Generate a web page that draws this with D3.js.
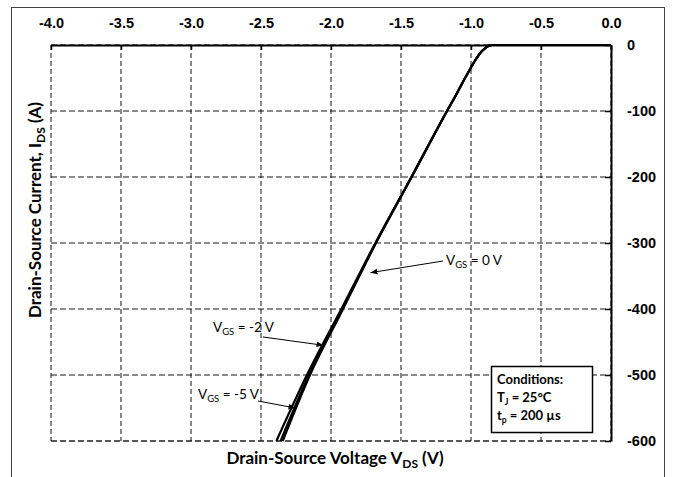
<!DOCTYPE html>
<html lang="en">
<head>
  <meta charset="utf-8">
  <script src="https://d3js.org/d3.v7.min.js"></script>
  <style>
    body { margin: 0; background: #fff; }
    svg { font-family: Lato, "Open Sans", sans-serif; }
    .tick text { font-weight: bold; font-size: 14.5px; fill: #000; }
  </style>
</head>
<body>
  <script type="text/javascript">
    // tick values
    var xTicks = [-4.0, -3.5, -3.0, -2.5, -2.0, -1.5, -1.0, -0.5, 0.0];
    var yTicks = [0, -100, -200, -300, -400, -500, -600];

    // drain-source voltage (V) and current (A) for each gate voltage
    var vds0 = [-2.345, -2.15, -1.914, -1.679, -1.424, -1.171, -1.1, -1.05, -1.0, -0.975, -0.95, -0.925, -0.9, -0.875, -0.85, -0.8, -0.5, 0.0];
    var ids0 = [-600, -500, -400, -300, -200, -100, -73, -53, -34, -25, -17, -10, -5, -1.5, 0, 0, 0, 0];
    var vds2 = [-2.36, -2.158, -1.918, -1.68, -1.424, -1.171, -1.1, -1.05, -1.0, -0.975, -0.95, -0.925, -0.9, -0.875, -0.85, -0.8, -0.5, 0.0];
    var ids2 = [-600, -500, -400, -300, -200, -100, -73, -53, -34, -25, -17, -10, -5, -1.5, 0, 0, 0, 0];
    var vds5 = [-2.39, -2.172, -1.926, -1.683, -1.426, -1.172, -1.1, -1.05, -1.0, -0.975, -0.95, -0.925, -0.9, -0.875, -0.85, -0.8, -0.5, 0.0];
    var ids5 = [-600, -500, -400, -300, -200, -100, -73, -53, -34, -25, -17, -10, -5, -1.5, 0, 0, 0, 0];

    var dim = {
      "width": 678,
      "height": 477,
      "left": 51,
      "right": 611,
      "top": 45,
      "bottom": 441
    };

    var svg = d3.select("body")
      .append("svg")
      .attr("width", dim.width)
      .attr("height", dim.height);

    // outer frame (bottom edge falls outside the picture)
    svg.append("rect")
      .attr("x", 11.5)
      .attr("y", 7.5)
      .attr("width", 653)
      .attr("height", 490)
      .attr("fill", "none")
      .attr("stroke", "#444")
      .attr("stroke-width", 1);

    var xScale = d3.scaleLinear()
      .domain([-4, 0])
      .range([dim.left, dim.right]);

    var yScale = d3.scaleLinear()
      .domain([-600, 0])
      .range([dim.bottom, dim.top]);

    // horizontal grid
    svg.append("g")
      .selectAll("line")
      .data(yTicks)
      .enter()
      .append("line")
      .attr("x1", dim.left)
      .attr("x2", dim.right)
      .attr("y1", d => yScale(d))
      .attr("y2", d => yScale(d))
      .attr("stroke", d => d === -600 ? "#222" : "#666")
      .attr("stroke-width", 1.3)
      .attr("stroke-dasharray", "6,3");

    // vertical grid
    svg.append("g")
      .selectAll("line")
      .data(xTicks)
      .enter()
      .append("line")
      .attr("x1", d => xScale(d))
      .attr("x2", d => xScale(d))
      .attr("y1", dim.top)
      .attr("y2", dim.bottom)
      .attr("stroke", "#111")
      .attr("stroke-width", 1)
      .attr("stroke-dasharray", "5,3");

    // curves
    var line = d3.line()
      .x(d => xScale(d[0]))
      .y(d => yScale(d[1]))
      .curve(d3.curveMonotoneX);

    [[vds5, ids5], [vds2, ids2], [vds0, ids0]].forEach(function(s) {
      svg.append("path")
        .datum(d3.zip(s[0], s[1]))
        .attr("d", line)
        .attr("fill", "none")
        .attr("stroke", "#000")
        .attr("stroke-width", 2.2);
    });

    // axes
    var xAxis = d3.axisTop(xScale)
      .tickValues(xTicks)
      .tickSizeInner(-5)
      .tickSizeOuter(0)
      .tickPadding(17)
      .tickFormat(d => d.toFixed(1));

    var yAxis = d3.axisRight(yScale)
      .tickValues(yTicks)
      .tickSizeInner(-6)
      .tickSizeOuter(0)
      .tickPadding(16)
      .tickFormat(d => String(d));

    var gx = svg.append("g")
      .attr("transform", "translate(0," + dim.top + ")")
      .call(xAxis);

    var gy = svg.append("g")
      .attr("transform", "translate(" + dim.right + ",0)")
      .call(yAxis);

    [gx, gy].forEach(function(g) {
      g.select(".domain").attr("stroke", "#000").attr("stroke-width", 2);
      g.selectAll(".tick line").attr("stroke", "#000").attr("stroke-width", 1.5);
    });
    gy.selectAll(".tick text").attr("text-anchor", "start");

    // axis titles
    var xTitle = svg.append("text")
      .attr("x", 335)
      .attr("y", 464)
      .attr("text-anchor", "middle")
      .style("font-weight", "bold")
      .style("font-size", "17px")
      .text("Drain-Source Voltage V");
    xTitle.append("tspan").attr("dy", 4).style("font-size", "12px").text("DS");
    xTitle.append("tspan").attr("dy", -4).text(" (V)");

    var yTitle = svg.append("text")
      .attr("transform", "translate(41,210) rotate(-90)")
      .attr("text-anchor", "middle")
      .style("font-weight", "bold")
      .style("font-size", "17px")
      .text("Drain-Source Current, I");
    yTitle.append("tspan").attr("dy", 4).style("font-size", "12px").text("DS");
    yTitle.append("tspan").attr("dy", -4).text(" (A)");

    // annotations
    svg.append("defs").append("marker")
      .attr("id", "arrow")
      .attr("viewBox", "0 0 10 10")
      .attr("refX", 10)
      .attr("refY", 5)
      .attr("markerWidth", 7)
      .attr("markerHeight", 7)
      .attr("orient", "auto")
      .append("path")
      .attr("d", "M0,1L10,5L0,9Z")
      .attr("fill", "#000");

    var notes = [
      { label: "0 V", tx: 446, ty: 265, x1: 443, y1: 261, vds: -1.74, ids: -345 },
      { label: "-2 V", tx: 213, ty: 332, x1: 263, y1: 337, vds: -2.075, ids: -455 },
      { label: "-5 V", tx: 198, ty: 399, x1: 258, y1: 401, vds: -2.275, ids: -550 }
    ];

    notes.forEach(function(n) {
      var t = svg.append("text")
        .attr("x", n.tx)
        .attr("y", n.ty)
        .style("font-size", "13.5px")
        .text("V");
      t.append("tspan").attr("dy", 3).style("font-size", "9.5px").text("GS");
      t.append("tspan").attr("dy", -3).text(" = " + n.label);

      svg.append("line")
        .attr("x1", n.x1)
        .attr("y1", n.y1)
        .attr("x2", xScale(n.vds) + 3)
        .attr("y2", yScale(n.ids))
        .attr("stroke", "#000")
        .attr("stroke-width", 1)
        .attr("marker-end", "url(#arrow)");
    });

    // conditions box
    svg.append("rect")
      .attr("x", 491.5)
      .attr("y", 366.5)
      .attr("width", 101)
      .attr("height", 66)
      .attr("fill", "#fff")
      .attr("stroke", "#000")
      .attr("stroke-width", 1.5);

    var c1 = svg.append("text").attr("x", 497).attr("y", 384)
      .style("font-weight", "bold").style("font-size", "13px")
      .text("Conditions:");
    var c2 = svg.append("text").attr("x", 497).attr("y", 402)
      .style("font-weight", "bold").style("font-size", "13px")
      .text("T");
    c2.append("tspan").attr("dy", 3).style("font-size", "8.5px").text("J");
    c2.append("tspan").attr("dy", -3).text(" = 25°C");
    var c3 = svg.append("text").attr("x", 497).attr("y", 420)
      .style("font-weight", "bold").style("font-size", "13px")
      .text("t");
    c3.append("tspan").attr("dy", 3).style("font-size", "8.5px").text("p");
    c3.append("tspan").attr("dy", -3).text(" = 200 µs");
  </script>
</body>
</html>
